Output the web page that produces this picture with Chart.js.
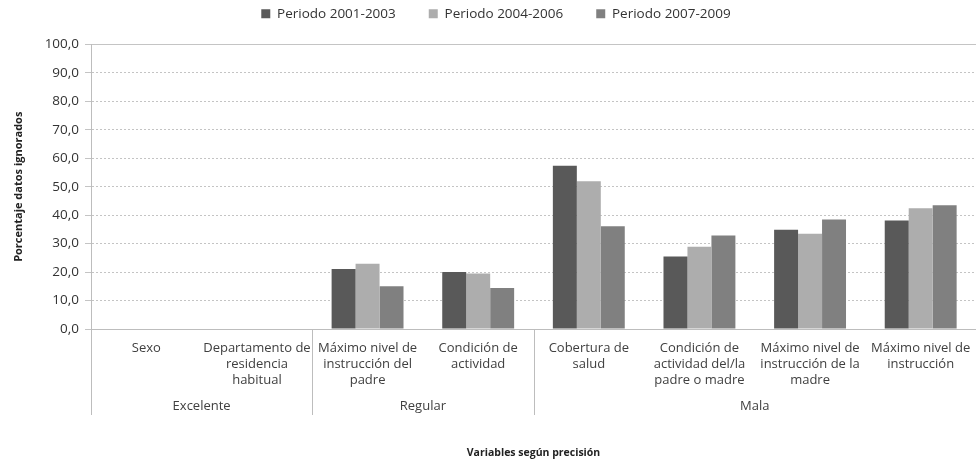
<!DOCTYPE html>
<html>
<head>
<meta charset="utf-8">
<script src="https://cdn.jsdelivr.net/npm/chart.js@4"></script>
<style>
  html, body { margin: 0; padding: 0; background: #fff; }
  #wrap { width: 976px; height: 459px; }
</style>
</head>
<body>
<div id="wrap"><canvas id="chart" width="976" height="459"></canvas></div>
<script>
const categories = [
  ['Sexo'],
  ['Departamento de', 'residencia', 'habitual'],
  ['Máximo nivel de', 'instrucción del', 'padre'],
  ['Condición de', 'actividad'],
  ['Cobertura de', 'salud'],
  ['Condición de', 'actividad del/la', 'padre o madre'],
  ['Máximo nivel de', 'instrucción de la', 'madre'],
  ['Máximo nivel de', 'instrucción']
];
const groups = ['Excelente', 'Regular', 'Mala'];
const groupSizes = [2, 2, 4];
const seriesNames = ['Periodo 2001-2003', 'Periodo 2004-2006', 'Periodo 2007-2009'];
const p2001 = [null, null, 21.1, 20.0, 57.4, 25.5, 34.9, 38.1];
const p2004 = [null, null, 22.9, 19.5, 51.9, 28.9, 33.5, 42.4];
const p2007 = [null, null, 15.0, 14.4, 36.1, 32.9, 38.5, 43.5];
const colors = ['#595959', '#adadad', '#808080'];

const font = '"Open Sans", sans-serif';

// group separators and group names under the category labels
const groupPlugin = {
  id: 'groups',
  beforeInit(chart) {
    // extra room between legend and plot
    const fit = chart.legend.fit;
    chart.legend.fit = function () {
      fit.call(this);
      this.height += 14;
    };
  },
  afterDraw(chart) {
    const ctx = chart.ctx;
    const x = chart.scales.x;
    const half = (x.getPixelForValue(1) - x.getPixelForValue(0)) / 2;
    const top = chart.chartArea.bottom;
    ctx.save();
    ctx.strokeStyle = '#bdbdbd';
    ctx.lineWidth = 1;
    ctx.fillStyle = '#404040';
    ctx.font = '13px ' + font;
    ctx.textAlign = 'center';
    ctx.textBaseline = 'middle';
    let start = 0;
    groupSizes.forEach((n, i) => {
      const left = x.getPixelForValue(start) - half;
      const right = x.getPixelForValue(start + n - 1) + half;
      ctx.beginPath();
      ctx.moveTo(Math.round(left) + 0.5, top);
      ctx.lineTo(Math.round(left) + 0.5, top + 86);
      ctx.stroke();
      ctx.fillText(groups[i], (left + right) / 2, top + 77);
      start += n;
    });
    ctx.restore();
  }
};

new Chart(document.getElementById('chart'), {
  type: 'bar',
  data: {
    labels: categories,
    datasets: [
      { label: seriesNames[0], data: p2001, backgroundColor: colors[0] },
      { label: seriesNames[1], data: p2004, backgroundColor: colors[1] },
      { label: seriesNames[2], data: p2007, backgroundColor: colors[2] }
    ]
  },
  options: {
    responsive: false,
    animation: false,
    layout: { padding: { left: 12, right: -4, top: 1, bottom: 0 } },
    datasets: { bar: { categoryPercentage: 0.65, barPercentage: 1.0 } },
    plugins: {
      legend: {
        position: 'top',
        labels: {
          boxWidth: 9, boxHeight: 9, padding: 6,
          color: '#333', font: { family: font, size: 13.5 },
          generateLabels(chart) {
            const items = Chart.defaults.plugins.legend.labels.generateLabels(chart);
            items.forEach((it, i) => { if (i < items.length - 1) it.text += '\u2003\u2003'; });
            return items;
          }
        }
      },
      tooltip: { enabled: false }
    },
    scales: {
      x: {
        grid: { display: false },
        border: { color: '#bdbdbd' },
        ticks: {
          autoSkip: false, maxRotation: 0, padding: 3,
          color: '#404040', font: { family: font, size: 13, lineHeight: 1.23 }
        },
        title: {
          display: true, text: 'Variables según precisión',
          color: '#222', font: { family: font, size: 10.5, weight: 'bold' },
          padding: { top: 0, bottom: 0 }
        },
        afterFit(s) { s.height = 130; }
      },
      y: {
        min: 0, max: 100,
        ticks: {
          stepSize: 10, padding: 6,
          color: '#333', font: { family: font, size: 13.5 },
          callback: v => v.toFixed(1).replace('.', ',')
        },
        grid: {
          color: '#c4c4c4', tickLength: 6, drawTicks: true
        },
        border: {
          color: '#bdbdbd',
          dash: ctx => (ctx.tick && (ctx.tick.value === 0 || ctx.tick.value === 100)) ? [] : [2, 2]
        },
        title: {
          display: true, text: 'Porcentaje datos ignorados',
          color: '#222', font: { family: font, size: 11, weight: 'bold' },
          padding: { top: 0, bottom: 4 }
        },
        afterFit(s) { s.width = 79; }
      }
    }
  },
  plugins: [groupPlugin]
});
</script>
</body>
</html>
